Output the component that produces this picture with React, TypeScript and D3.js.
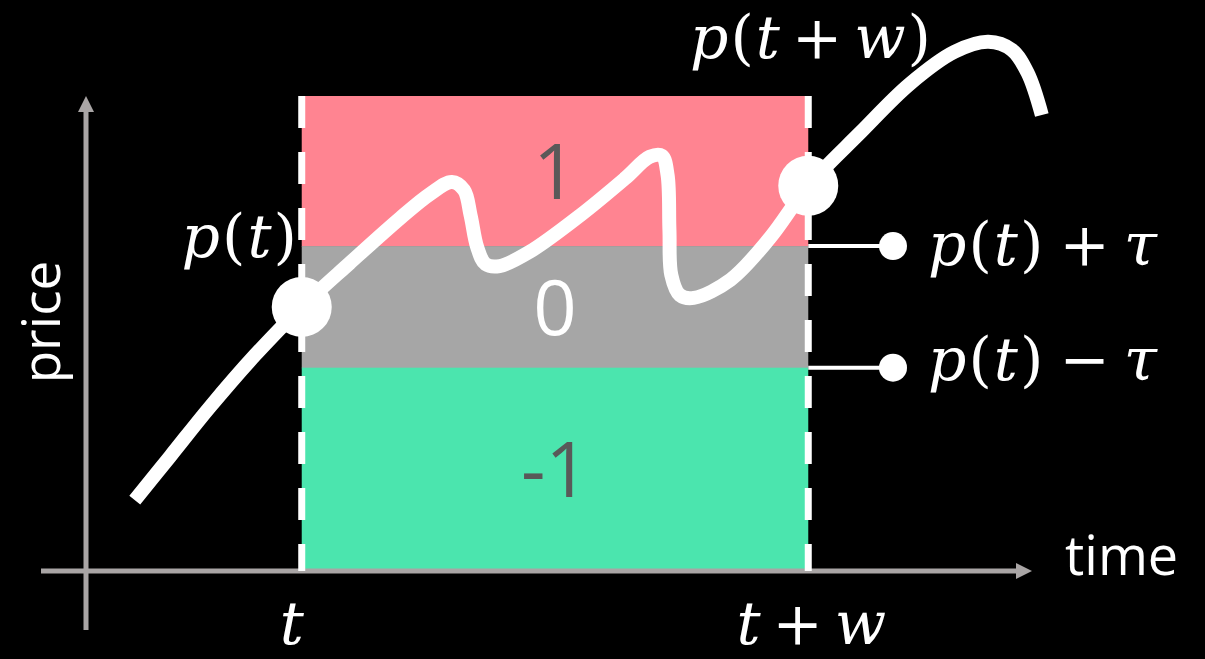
import React from "react";
import * as d3 from "d3";

const width = 1205;
const height = 659;

// time and price run 0..100 in arbitrary units
const timeDomain = [0, 100];
const priceDomain = [0, 100];

const tStart = 23;
const windowW = 54;
const pT = 55.6;
const tau = 12.8;
const pTW = 81.1;

const curveTimes = [
  5.2, 9.0, 13.2, 18.0, 23.0, 28.1, 33.5, 36.7, 39.0, 40.3, 41.0, 41.7, 42.6, 44.1,
  47.3, 52.7, 57.5, 60.1, 61.4, 62.0, 62.2, 62.4, 63.3, 64.8, 68.7, 72.9, 77.0,
  82.5, 87.8, 92.6, 96.2, 98.7, 100.4, 101.9
];
const curvePrices = [
  14.9, 24.2, 34.5, 45.4, 55.6, 64.8, 74.3, 79.4, 81.9, 80.2, 74.9, 68.2, 64.6, 64.2,
  67.2, 74.9, 82.7, 87.2, 87.4, 83.4, 71.8, 62.3, 58.1, 57.5, 61.3, 70.1, 81.1,
  92.2, 102.5, 109.3, 111.4, 109.7, 104.8, 96.0
];

const bandLabels = ["1", "0", "-1"];
const bandColors = ["#FF8491", "#A6A6A6", "#4BE5AE"];
const bandTextColors = ["#595959", "#FFFFFF", "#595959"];

const axisColor = "#A9A5A5";
const mathFont = "'DejaVu Serif', serif";
const sansFont = "'Open Sans', sans-serif";

const x = d3.scaleLinear().domain(timeDomain).range([86, 1024]);
const y = d3.scaleLinear().domain(priceDomain).range([571, 96]);

const pricePath = d3
  .line<number>()
  .x((d, i) => x(curveTimes[i]))
  .y(d => y(d))
  .curve(d3.curveCatmullRom.alpha(0.5));

// math label: parts are [text, italic, dx]
function MathLabel({ parts, ...rest }: any) {
  return (
    <text fill="#fff" fontFamily={mathFont} fontSize={60} {...rest}>
      {parts.map((p: any, i: number) => (
        <tspan key={i} fontStyle={p[1] ? "italic" : "normal"} dx={p[2] == null ? (i ? 2 : 0) : p[2]}>
          {p[0]}
        </tspan>
      ))}
    </text>
  );
}

export default function App() {
  const x0 = x(tStart);
  const x1 = x(tStart + windowW);
  const bands = [
    [priceDomain[1], pT + tau],
    [pT + tau, pT - tau],
    [pT - tau, priceDomain[0]]
  ];
  const origin = { x: x(timeDomain[0]), y: y(priceDomain[0]) };

  return (
    <svg
      width={width}
      height={height}
      style={{ position: "absolute", left: 0, top: 0, background: "#000" }}
    >
      {bands.map((b, i) => (
        <rect
          key={i}
          x={x0}
          y={y(b[0])}
          width={x1 - x0}
          height={y(b[1]) - y(b[0]) + 0.5}
          fill={bandColors[i]}
        />
      ))}
      {bands.map((b, i) => (
        <text
          key={"l" + i}
          x={(x0 + x1) / 2}
          y={(y(b[0]) + y(b[1])) / 2 + 28}
          textAnchor="middle"
          fill={bandTextColors[i]}
          fontFamily={sansFont}
          fontSize={76}
        >
          {bandLabels[i]}
        </text>
      ))}

      {/* axes */}
      <line x1={41} x2={1018} y1={origin.y} y2={origin.y} stroke={axisColor} strokeWidth={5} />
      <path d={`M1032,${origin.y} L1016,${origin.y - 8} L1016,${origin.y + 8}Z`} fill={axisColor} />
      <line x1={origin.x} x2={origin.x} y1={630} y2={110} stroke={axisColor} strokeWidth={5} />
      <path d={`M${origin.x},96 L${origin.x - 8},112 L${origin.x + 8},112Z`} fill={axisColor} />

      {/* window edges */}
      {[x0, x1].map((v, i) => (
        <line
          key={i}
          x1={v}
          x2={v}
          y1={y(priceDomain[1])}
          y2={origin.y}
          stroke="#fff"
          strokeWidth={7}
          strokeDasharray="32,24"
        />
      ))}

      {/* threshold markers */}
      {[pT + tau, pT - tau].map((v, i) => (
        <g key={i}>
          <line x1={x1} x2={893} y1={y(v)} y2={y(v)} stroke="#fff" strokeWidth={4} />
          <circle cx={893} cy={y(v)} r={14} fill="#fff" />
        </g>
      ))}

      <path d={pricePath(curvePrices) || ""} fill="none" stroke="#fff" strokeWidth={14} />
      <circle cx={x0} cy={y(pT)} r={30} fill="#fff" />
      <circle cx={x1} cy={y(pTW)} r={30} fill="#fff" />

      <MathLabel x={297} y={257} textAnchor="end" parts={[["p", 1], ["(", 0], ["t", 1], [")", 0]]} />
      <MathLabel x={690} y={58} parts={[["p", 1], ["(", 0], ["t", 1], ["+", 0, 12], ["w", 1, 12], [")", 0]]} />
      <MathLabel x={928} y={265} parts={[["p", 1], ["(", 0], ["t", 1], [")", 0], ["+", 0, 16], ["τ", 1, 14]]} />
      <MathLabel x={928} y={380} parts={[["p", 1], ["(", 0], ["t", 1], [")", 0], ["−", 0, 16], ["τ", 1, 14]]} />
      <MathLabel x={x0 - 10} y={644} textAnchor="middle" parts={[["t", 1]]} />
      <MathLabel x={x1 + 3} y={644} textAnchor="middle" parts={[["t", 1], ["+", 0, 12], ["w", 1, 12]]} />

      <text x={1065} y={575} fill="#fff" fontFamily={sansFont} fontSize={54}>
        time
      </text>
      <text
        transform="translate(60,322) rotate(-90)"
        textAnchor="middle"
        fill="#fff"
        fontFamily={sansFont}
        fontSize={53}
      >
        price
      </text>
    </svg>
  );
}
